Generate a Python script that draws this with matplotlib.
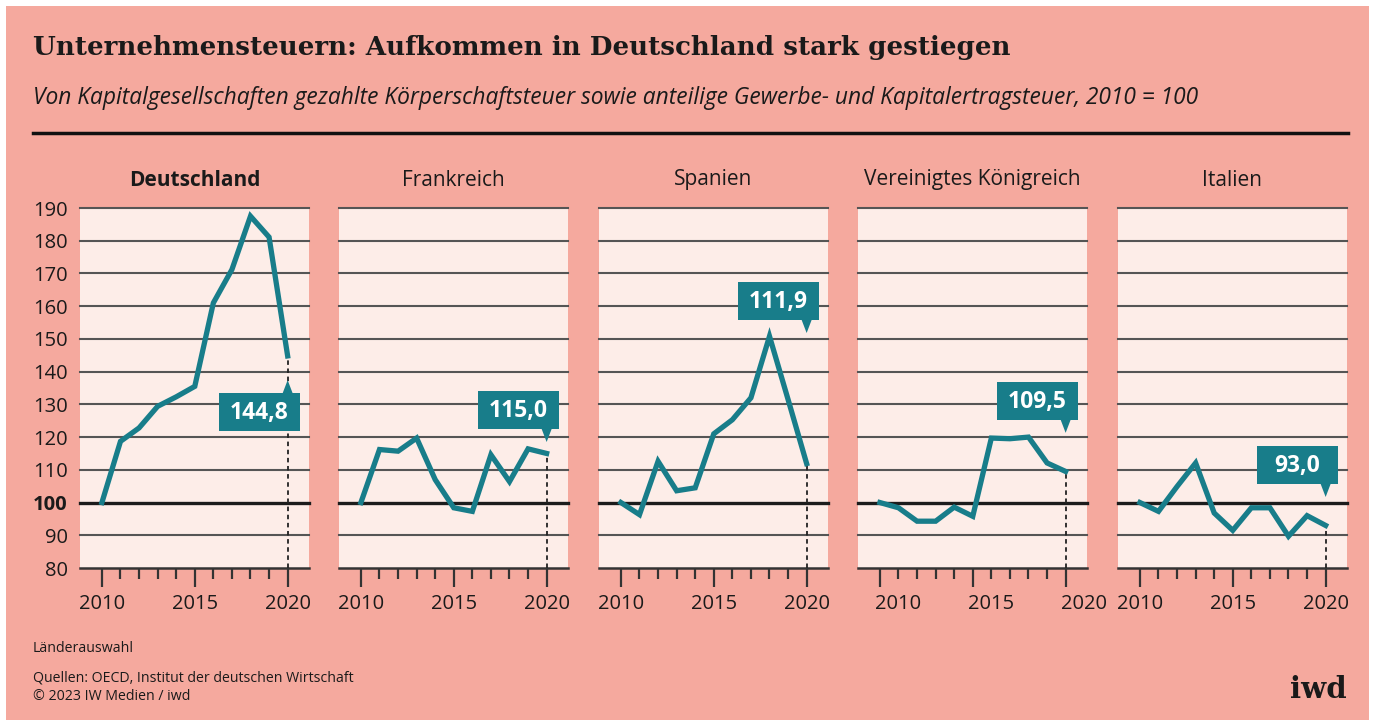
import numpy as np
import matplotlib.pyplot as plt
from matplotlib.patches import Rectangle, Polygon

# data (index, 2010 = 100)
years = np.arange(2010, 2021)
years_uk = np.arange(2009, 2020)  # the UK panel is drawn one year shifted

deutschland = [100, 118.7, 122.8, 129.4, 132.3, 135.5, 161.0, 171.2, 187.5, 181.1, 144.8]
frankreich = [100, 116.2, 115.7, 119.7, 107.0, 98.4, 97.3, 114.6, 106.4, 116.4, 115.0]
spanien = [100, 96.3, 112.6, 103.6, 104.5, 121.0, 125.3, 132.0, 150.8, 131.5, 111.9]
uk = [100, 98.4, 94.3, 94.3, 98.6, 95.8, 119.7, 119.5, 120.0, 112.1, 109.5]
italien = [100, 97.3, 104.9, 112.1, 96.8, 91.5, 98.4, 98.4, 89.7, 96.0, 93.0]

countries = ['Deutschland', 'Frankreich', 'Spanien', 'Vereinigtes Königreich', 'Italien']
series = [deutschland, frankreich, spanien, uk, italien]
x_years = [years, years, years, years_uk, years]
year_labels = [2010, 2015, 2020]
y_ticks = np.arange(80, 200, 10)

# layout of the value callouts (tip height in data units, pointing up?)
callout_tip = [137.4, 118.5, 151.8, 121.3, 101.7]
callout_up = [True, False, False, False, False]

SALMON = '#f5a99e'
PANEL = '#fdede8'
TEAL = '#187d8a'
FONT = ['Open Sans', 'DejaVu Sans']

W, H = 1375, 724
fig = plt.figure(figsize=(W / 100, H / 100), dpi=100, facecolor='white')
fig.patches.append(Rectangle((6 / W, 4 / H), 1363 / W, 714 / H, transform=fig.transFigure,
                             facecolor=SALMON, edgecolor='none', zorder=-10))

def fx(px):
    return px / W

def fy(py):
    return 1 - py / H

# title, subtitle, rule
fig.text(fx(33), fy(47), 'Unternehmensteuern: Aufkommen in Deutschland stark gestiegen',
         fontsize=18.8, fontweight='bold', family='DejaVu Serif', color='#1a1a1a', va='center')
fig.text(fx(33), fy(98), 'Von Kapitalgesellschaften gezahlte Körperschaftsteuer sowie anteilige '
         'Gewerbe- und Kapitalertragsteuer, 2010 = 100',
         fontsize=16.4, style='italic', family=FONT, color='#1a1a1a', va='center')
fig.add_artist(plt.Line2D([fx(33), fx(1348)], [fy(133), fy(133)], color='#111111', lw=2.5))

lefts = [80, 339, 599, 858, 1118]
pw = 229
top, bottom = 208, 568

def callout(ax, x, tip, text, up):
    bw, bh, tail = 4.35, 11.6, 4.0
    right = x + 0.65
    if up:
        y0 = tip - tail - bh
        tri = [(x - 0.27, tip - tail), (x + 0.27, tip - tail), (x, tip)]
    else:
        y0 = tip + tail
        tri = [(x - 0.27, tip + tail), (x + 0.27, tip + tail), (x, tip)]
    ax.add_patch(Rectangle((right - bw, y0), bw, bh, facecolor=TEAL, edgecolor='none',
                           zorder=6, clip_on=False))
    ax.add_patch(Polygon(tri, closed=True, facecolor=TEAL, edgecolor='none', zorder=6, clip_on=False))
    ax.text(right - bw / 2, y0 + bh / 2 - 0.3, text, color='white', fontsize=16.5, fontweight='bold',
            family=FONT, ha='center', va='center', zorder=7)

for i, name in enumerate(countries):
    ax = fig.add_axes([fx(lefts[i]), fy(bottom), pw / W, (bottom - top) / H])
    ax.set_facecolor(PANEL)
    xs = x_years[i]
    vals = series[i]
    ax.set_xlim(xs[0] - 1.18, xs[-1] + 1.15)
    ax.set_ylim(80, 190)

    for v in y_ticks[1:]:
        if v == 100:
            ax.axhline(v, color='#1c1c1c', lw=2.4, zorder=2, clip_on=False)
        else:
            ax.axhline(v, color='#555555', lw=1.5, zorder=2, clip_on=False)

    for s in ['left', 'right', 'top']:
        ax.spines[s].set_visible(False)
    ax.spines['bottom'].set_color('#333333')
    ax.spines['bottom'].set_linewidth(1.8)

    ax.plot(xs, vals, color=TEAL, lw=3.8, zorder=4, solid_joinstyle='miter')
    ax.plot([xs[-1], xs[-1]], [80, vals[-1]], color='#222222', lw=1.3, ls=(0, (2.5, 2)), zorder=3)

    # ticks: long ones every 5 years, short ones every year
    ax.set_xticks(xs[::5], labels=[])
    ax.set_xticks(xs, minor=True)
    ax.tick_params(axis='x', which='major', length=14, width=1.6, color='#333333', direction='out')
    ax.tick_params(axis='x', which='minor', length=8, width=1.6, color='#333333', direction='out')
    for yl in year_labels:
        ax.annotate(str(yl), xy=(yl, 0), xycoords=ax.get_xaxis_transform(), xytext=(0, -19),
                    textcoords='offset points', ha='center', va='top', fontsize=14.5,
                    family=FONT, color='#1a1a1a', annotation_clip=False)

    if i == 0:
        ax.set_yticks(y_ticks, labels=[str(v) for v in y_ticks])
        ax.tick_params(axis='y', length=0, pad=9, labelsize=14.5, labelcolor='#1a1a1a')
        for lab in ax.get_yticklabels():
            lab.set_family(FONT)
            if lab.get_text() == '100':
                lab.set_fontweight('bold')
    else:
        ax.set_yticks([])

    ax.text(0.5, 1 + 28 / (bottom - top), name, transform=ax.transAxes, ha='center', va='center',
            fontsize=15, family=FONT, color='#1a1a1a', fontweight='bold' if i == 0 else 'normal')

    label = '{:.1f}'.format(vals[-1]).replace('.', ',')
    callout(ax, xs[-1], callout_tip[i], label, callout_up[i])

# footer
fig.text(fx(33), fy(648), 'Länderauswahl', fontsize=10.2, family=FONT, color='#1a1a1a', va='center')
fig.text(fx(33), fy(678), 'Quellen: OECD, Institut der deutschen Wirtschaft', fontsize=10.2,
         family=FONT, color='#1a1a1a', va='center')
fig.text(fx(33), fy(697), '© 2023 IW Medien / iwd', fontsize=10.2, family=FONT, color='#1a1a1a',
         va='center')
fig.text(fx(1347), fy(690), 'iwd', fontsize=21, fontweight='bold', family='DejaVu Serif',
         color='#1a1a1a', ha='right', va='center')

fig.savefig('out.png', dpi=100, facecolor='white')
